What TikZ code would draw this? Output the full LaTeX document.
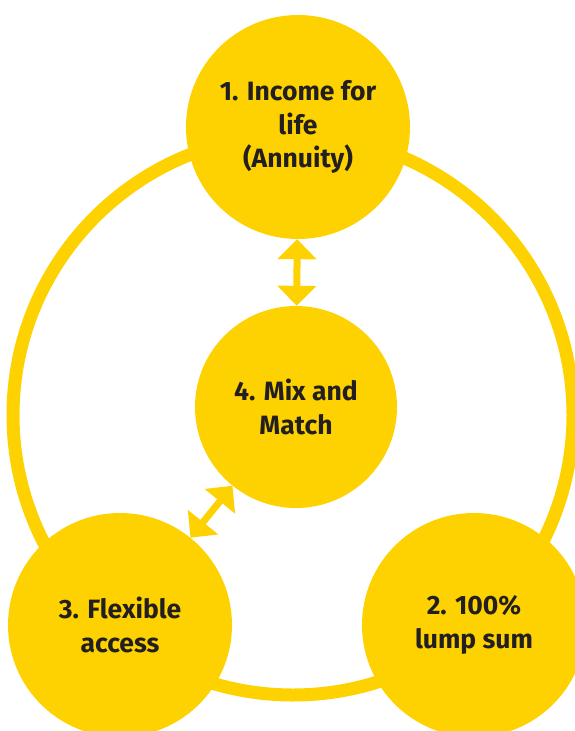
\documentclass[tikz,border=0pt]{standalone}
\usepackage{fontspec}
\setmainfont{Fira Sans}
\usetikzlibrary{arrows.meta}
\definecolor{sunyellow}{RGB}{253,210,0}
\definecolor{inkgrey}{RGB}{35,31,32}
\tikzset{
  option/.style={circle,fill=sunyellow,minimum size=224pt,inner sep=0pt,
    text=inkgrey,font=\fontsize{26.5}{33.5}\selectfont\bfseries,align=center},
  swap/.style={line width=7pt,draw=sunyellow,
    {Triangle[width=38pt,length=20pt]}-{Triangle[width=38pt,length=20pt]}}
}
\begin{document}
\begin{tikzpicture}[x=1pt,y=-1pt]
\useasboundingbox (0,0) rectangle (575,731);


%big ring behind the options
\node[circle,draw=sunyellow,line width=13pt,minimum size=560pt,inner sep=0pt] (ring) at (293,415) {};


%the four options
\node[option] (income) at (298,127) {1. Income for\\life\\(Annuity)};
\node[option,minimum size=202pt] (mix) at (296,407) {4. Mix and\\Match};
\node[option] (flexible) at (120,625) {3. Flexible\\access};
\node[option] (lump) at (474,625) {2. 100\%\\lump sum};


%links to the mix option
\draw[swap] (income) -- (mix);
\draw[swap] (mix) -- (flexible);



\end{tikzpicture}
\end{document}
